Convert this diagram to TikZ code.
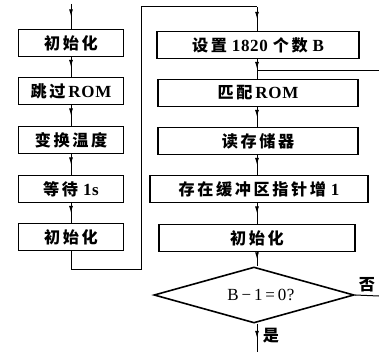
\documentclass[tikz,border=0pt]{standalone}
\usepackage{fontspec}
\setmainfont{Liberation Serif}[LetterSpace=4]
\newfontfamily\cjk{Noto Sans CJK SC}[LetterSpace=16, Scale=0.95]
\newcommand\zh[1]{{\cjk\bfseries #1}}
\usetikzlibrary{shapes.geometric,decorations.markings,arrows.meta}
\tikzset{
  box/.style={draw, line width=1.6pt, minimum height=27pt, inner sep=0pt,
              font=\fontsize{17}{19}\selectfont\bfseries},
  conn/.style={line width=1pt},
  midarr/.style={conn, postaction={decorate},
     decoration={markings, mark=at position 0.5 with {\arrow{Latex[length=7pt,width=4pt]}}}},
  lbl/.style={font=\fontsize{17}{19}\selectfont, inner sep=0pt}
}
\begin{document}
\begin{tikzpicture}[x=1pt,y=-1pt]
\useasboundingbox (0,0) rectangle (379,352);
% left column
\node[box, minimum width=105pt] (L1) at (71,43) {\zh{初始化}};
\node[box, minimum width=105pt] (L2) at (71,91) {\zh{跳过}\,ROM};
\node[box, minimum width=105pt] (L3) at (71,140) {\zh{变换温度}};
\node[box, minimum width=105pt] (L4) at (71,189) {\zh{等待} 1s};
\node[box, minimum width=105pt] (L5) at (71,237) {\zh{初始化}};
% right column
\node[box, minimum width=202pt] (R1) at (258,45) {\zh{设置} 1820 \zh{个数} B};
\node[box, minimum width=200pt] (R2) at (258,93) {\zh{匹配}\,ROM};
\node[box, minimum width=200pt] (R3) at (258,141) {\zh{读存储器}};
\node[box, minimum width=218pt] (R4) at (259,189) {\zh{存在缓冲区指针增} 1};
\node[box, minimum width=196pt] (R5) at (257,238) {\zh{初始化}};
\node[draw, line width=1.6pt, shape=diamond, aspect=3.57, inner sep=0pt,
      minimum width=200pt, minimum height=56pt,
      font=\fontsize{17}{19}\selectfont] (D) at (254,295) {\hspace{14pt}B\,−\,1\,=\,0?};
% coordinates
\coordinate (top) at (71,4);
\coordinate (c1) at (71,269);
\coordinate (c2) at (141,269);
\coordinate (c3) at (141,7);
\coordinate (c4) at (257,7);
\coordinate (j) at (257,71);
\coordinate (rin) at (379,71);
\coordinate (nout) at (379,296);
\coordinate (yout) at (257,352);
% connectors
\draw[midarr] (top) -- (L1.north);
\draw[midarr] (L1) -- (L2);
\draw[midarr] (L2) -- (L3);
\draw[midarr] (L3) -- (L4);
\draw[midarr] (L4) -- (L5);
\draw[conn] (L5.south) -- (c1) -- (c2) -- (c3) -- (c4);
\draw[midarr] (c4) -- (R1.north -| c4);
\draw[midarr] (R1.south -| c4) -- (R2.north -| c4);
\draw[conn] (rin) -- (j);
\draw[midarr] (R2.south -| c4) -- (R3.north -| c4);
\draw[midarr] (R3.south -| c4) -- (R4.north -| c4);
\draw[midarr] (R4.south -| c4) -- (R5.north -| c4);
\draw[midarr] (R5.south -| c4) -- (D.north -| c4);
\draw[conn] (D.east) -- (nout);
\draw[midarr] (D.south -| yout) -- (yout);
\node[lbl] (no) at (367,285) {\zh{否}};
\node[lbl] (yes) at (271,336) {\zh{是}};
\end{tikzpicture}
\end{document}
